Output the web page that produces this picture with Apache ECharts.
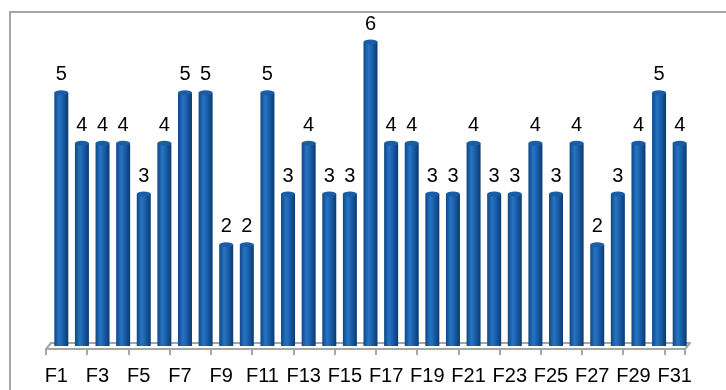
<!DOCTYPE html>
<html>
<head>
<meta charset="utf-8">
<script src="https://cdn.jsdelivr.net/npm/echarts@6/dist/echarts.min.js"></script>
<style>
  html, body { margin: 0; padding: 0; background: #fff; }
  #chart { width: 726px; height: 390px; }
</style>
</head>
<body>
<div id="chart"></div>
<script>
// data
const categories = ['F1','F2','F3','F4','F5','F6','F7','F8','F9','F10','F11','F12','F13','F14','F15','F16',
  'F17','F18','F19','F20','F21','F22','F23','F24','F25','F26','F27','F28','F29','F30','F31']
const values = [5,4,4,4,3,4,5,5,2,2,5,3,4,3,3,6,4,4,3,3,4,3,3,4,3,4,2,3,4,5,4]

const font = 'Liberation Sans, Arial, sans-serif'
const chart = echarts.init(document.getElementById('chart'))

const barColor = new echarts.graphic.LinearGradient(0, 0, 1, 0, [
  { offset: 0, color: '#0e4787' },
  { offset: 0.35, color: '#2674c4' },
  { offset: 0.6, color: '#1a60aa' },
  { offset: 1, color: '#0b3a70' }
])

const option = {
  backgroundColor: '#fff',
  animation: false,
  grid: [
    { left: 51, right: 36, top: 42, bottom: 44 },
    { left: 46, right: 41, top: 42, bottom: 41 }
  ],
  xAxis: [
    {
      type: 'category', data: categories, gridIndex: 0, offset: -3,
      axisLine: { lineStyle: { color: '#a6a6a6', width: 2 } },
      axisTick: { show: false }, axisLabel: { show: false }
    },
    {
      type: 'category', data: categories, gridIndex: 1,
      axisLine: { lineStyle: { color: '#a6a6a6', width: 2 } },
      axisTick: { show: true, length: 6, lineStyle: { color: '#a6a6a6', width: 2 } },
      axisLabel: { interval: 1, margin: 17, fontSize: 20, color: '#000', fontFamily: font }
    }
  ],
  yAxis: [
    { type: 'value', gridIndex: 0, min: 0, max: 6, show: false, splitLine: { show: false } },
    { type: 'value', gridIndex: 1, min: 0, max: 6, show: false, splitLine: { show: false } }
  ],
  graphic: [
    {
      type: 'rect', shape: { x: 10, y: 12, width: 740, height: 400 },
      style: { fill: 'none', stroke: '#a6a6a6', lineWidth: 2 }, z: -1
    },
    {
      type: 'line', shape: { x1: 51, y1: 343, x2: 46, y2: 349 },
      style: { stroke: '#a6a6a6', lineWidth: 2 }
    },
    {
      type: 'line', shape: { x1: 690, y1: 343, x2: 685, y2: 349 },
      style: { stroke: '#a6a6a6', lineWidth: 2 }
    }
  ],
  series: [
    {
      type: 'bar',
      data: values,
      barWidth: 14,
      xAxisIndex: 0, yAxisIndex: 0,
      itemStyle: { color: barColor },
      label: {
        show: true, position: 'top', distance: 8,
        fontSize: 20, color: '#000', fontFamily: font
      },
      z: 3
    },
    {
      type: 'pictorialBar',
      data: values,
      xAxisIndex: 0, yAxisIndex: 0,
      symbol: 'circle',
      symbolSize: [14, 5],
      symbolPosition: 'end',
      symbolOffset: [0, '-50%'],
      itemStyle: { color: '#1a5ca6' },
      z: 4,
      silent: true
    }
  ]
}

chart.setOption(option)
</script>
</body>
</html>
